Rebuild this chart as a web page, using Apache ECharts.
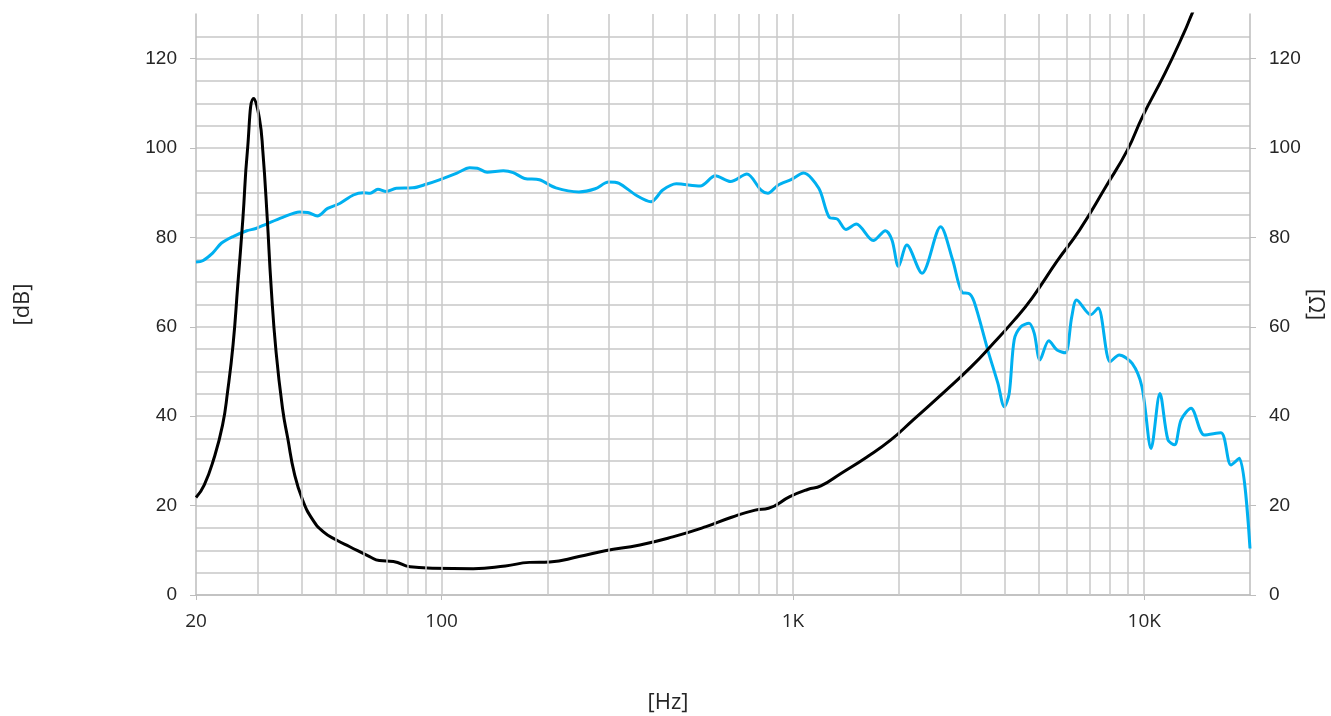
<!DOCTYPE html>
<html>
<head>
<meta charset="utf-8">
<title>SPL / Impedance</title>
<script src="https://cdn.jsdelivr.net/npm/echarts@6/dist/echarts.min.js"></script>
<style>
  html, body { margin: 0; padding: 0; background: #fff; }
  #main { width: 1331px; height: 716px; }
</style>
</head>
<body>
<div id="main"></div>
<script>
/* SPL curve (blue, left axis) */
var splFreq = [20, 20.9, 22.3, 23.6, 25.5, 27.9, 29.6, 31.7, 35.3, 39.4, 41.6, 44.3, 47.4, 51.3, 56.1, 59.9,
	62.6, 65.9, 69.6, 74.3, 82.8, 90.4, 98.6, 110.6, 120.3, 126.4, 134.8, 149.9, 159.9, 172.3, 189.9,
	211.5, 246, 273.8, 298.7, 320, 357, 394.7, 426.2, 465.7, 544.6, 601.5, 664.8, 739.6, 811.4, 848.6,
	907, 991, 1072, 1185, 1267, 1339, 1416, 1515, 1693, 1834, 1915, 1997, 2110, 2330, 2633, 2848,
	3044, 3160, 3280, 3587, 3831, 3996, 4127, 4265, 4454, 4700, 4862, 5047, 5350, 5650, 5960, 6220,
	6420, 7040, 7390, 8000, 8490, 9240, 9850, 10460, 11080, 11680, 12200, 12730, 13590, 14830, 16530,
	17650, 18650, 20000];
var splDb = [74.5, 74.8, 76.5, 78.7, 80.2, 81.5, 82.0, 83.0, 84.5, 85.7, 85.6, 84.8, 86.5, 87.6, 89.5, 90.0,
	89.9, 90.8, 90.3, 91.0, 91.1, 91.9, 92.9, 94.4, 95.6, 95.5, 94.6, 94.9, 94.5, 93.2, 92.9,
	91.1, 90.2, 90.9, 92.4, 92.1, 89.5, 88.0, 90.6, 92.0, 91.5, 93.8, 92.5, 94.2, 90.6, 89.9,
	91.7, 93.0, 94.4, 91.0, 84.6, 84.1, 81.8, 83.0, 79.3, 81.5, 79.4, 73.5, 78.3, 72.0, 82.4, 75.0,
	67.6, 67.5, 65.6, 54.8, 47.4, 42.1, 45.1, 57.1, 60.0, 60.8, 58.6, 52.6, 56.9, 54.8, 54.2, 62.3,
	66.0, 62.7, 64.2, 52.2, 53.7, 51.8, 46.6, 32.8, 45.1, 34.7, 33.6, 39.2, 41.8, 35.8, 36.3,
	29.1, 30.6, 10.4];

/* impedance curve (black, right axis) */
var impFreq = [20, 21.1, 22.5, 23.8, 24.6, 25.5, 26.3, 27.2, 28.0, 29.2, 30.3, 31.0, 31.9, 32.7, 33.8, 35.3,
	36.5, 38.1, 40.2, 43.0, 46.0, 50.2, 54.8, 62.4, 66.5, 72.9, 81.4, 94.2, 123, 152, 178, 203, 246, 292,
	367, 455, 566, 669, 781, 852, 980, 1101, 1201, 1370, 1625, 1900, 2200, 2737, 3220, 3650, 4265,
	4800, 5660, 6550, 7780, 8960, 9880, 11450, 12960, 13700, 14500];
var impOhm = [21.8, 24.6, 30.6, 38.0, 45.5, 56.0, 69.4, 84.3, 99.2, 111.1, 106.7, 99.2, 84.3, 69.4, 54.4, 41.5,
	35.0, 27.2, 21.3, 16.8, 14.2, 12.3, 10.8, 8.6, 7.7, 7.5, 6.3, 6.0, 5.9, 6.5, 7.3, 7.4, 8.6, 9.9,
	11.2, 13.0, 15.3, 17.4, 19.0, 19.4, 22.0, 23.6, 24.4, 27.2, 30.9, 34.7, 39.2, 45.9, 51.1, 55.6, 61.5,
	66.5, 74.8, 81.7, 91.4, 99.6, 107.0, 116.7, 125.7, 130.2, 134.5];

/* axis ticks and labels */
var freqTicks = [20, 100, 1000, 10000];
var freqLabels = { 20: '20', 100: '100', 1000: '1K', 10000: '10K' };
var levelTicks = [0, 20, 40, 60, 80, 100, 120];

/* vertical grid lines of the log axis */
var gridFreq = [30, 40, 50, 60, 70, 80, 90, 100, 200, 300, 400, 500, 600, 700, 800, 900, 1000,
	2000, 3000, 4000, 5000, 6000, 7000, 8000, 9000, 10000];

function pairs(xs, ys) {
	var out = [];
	for (var i = 0; i < xs.length; i++) {
		out.push([xs[i], ys[i]]);
	}
	return out;
}

var myChart = echarts.init(document.getElementById('main'));
var gridColor = '#c8c8c8';
var axisColor = '#bdbdbd';
var textColor = '#262626';

function levelAxis(pos) {
	var ax = {
		type : 'value',
		min : 0,
		max : 130,
		interval : 20,
		position : pos,
		nameLocation : 'middle',
		nameMoveOverlap : false,
		nameTextStyle : { fontFamily : 'Open Sans', fontSize : 22, color : textColor },
		axisLine : { show : true, lineStyle : { color : axisColor, width : 1.5 } },
		axisTick : { show : true, length : 6, customValues : levelTicks, lineStyle : { color : axisColor } },
		axisLabel : {
			fontFamily : 'Liberation Sans',
			fontSize : 19,
			color : textColor,
			margin : 19,
			customValues : levelTicks,
			formatter : function(v) { return v > 120 ? '' : v; }
		},
		splitLine : { show : false }
	};
	if (pos === 'left') {
		ax.name = '[dB]';
		ax.nameGap = 162;
		ax.splitLine = { show : true, lineStyle : { color : gridColor, width : 1.5 } };
		ax.minorTick = { show : false, splitNumber : 4 };
		ax.minorSplitLine = { show : true, lineStyle : { color : gridColor, width : 1.5 } };
	} else {
		ax.name = '[Ω]';
		ax.nameGap = 54;
		ax.nameRotate = -90;
	}
	return ax;
}

var option = {
	animation : false,
	grid : {
		left : 196,
		right : 81,
		top : 14,
		bottom : 121,
		outerBoundsMode : 'none'
	},
	xAxis : {
		type : 'log',
		logBase : 10,
		min : 20,
		max : 20000,
		name : '[Hz]',
		nameLocation : 'middle',
		nameGap : 97,
		nameTextStyle : {
			fontFamily : 'Open Sans',
			fontSize : 22,
			color : textColor,
			padding : [ 0, 110, 0, 0 ]
		},
		axisLine : { lineStyle : { color : axisColor, width : 1.5 } },
		axisTick : { length : 5, customValues : freqTicks, lineStyle : { color : axisColor } },
		splitLine : { show : false },
		axisLabel : {
			fontFamily : 'Open Sans',
			fontSize : 19,
			color : textColor,
			margin : 17,
			customValues : freqTicks,
			formatter : function(v) {
				return freqLabels[Math.round(v)] || '';
			}
		}
	},
	yAxis : [ levelAxis('left'), levelAxis('right') ],
	series : [ {
		name : 'grid',
		type : 'line',
		data : [],
		silent : true,
		z : 1,
		markLine : {
			silent : true,
			symbol : 'none',
			label : { show : false },
			lineStyle : { color : gridColor, width : 1.5, type : 'solid' },
			data : gridFreq.map(function(f) { return { xAxis : f }; })
		}
	}, {
		name : 'SPL',
		type : 'line',
		yAxisIndex : 0,
		data : pairs(splFreq, splDb),
		smooth : 0.3,
		showSymbol : false,
		z : 3,
		lineStyle : { color : '#00b0f0', width : 3 }
	}, {
		name : 'Impedance',
		type : 'line',
		yAxisIndex : 1,
		data : pairs(impFreq, impOhm),
		smooth : 0.5,
		showSymbol : false,
		clip : true,
		z : 4,
		lineStyle : { color : '#000000', width : 3 }
	} ]
};

myChart.setOption(option);
</script>
</body>
</html>
